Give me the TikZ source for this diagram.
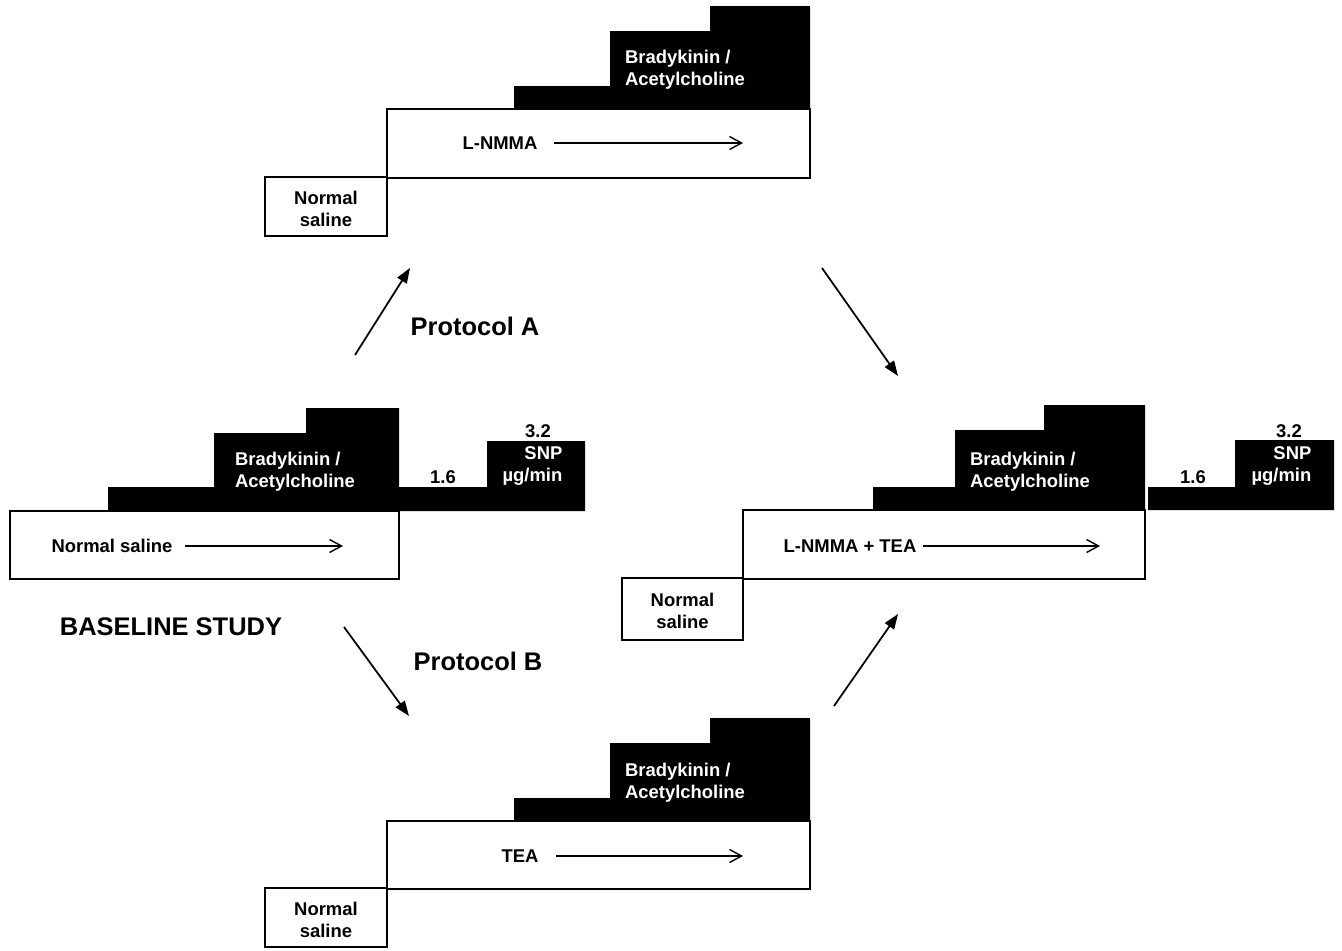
\documentclass[tikz,border=0pt]{standalone}
\usepackage{fontspec}
\setmainfont{Liberation Sans}
\usetikzlibrary{positioning,arrows.meta,fit}
\tikzset{
  lbl/.style={font=\fontsize{10.5}{12.5}\selectfont\bfseries, inner sep=3pt},
  whitelbl/.style={lbl, text=white},
  title/.style={font=\fontsize{14.5}{17}\selectfont\bfseries},
  infusion/.style={draw, fill=white, line width=1.1pt, inner sep=0pt},
  salinebox/.style={infusion},
  salinetext/.style={lbl, align=center, yshift=-1.3pt},
  dose/.style={fill=black},
  flow/.style={-{Straight Barb[length=2.4mm,width=2.6mm]}, line width=0.8pt, shorten <=5pt},
  route/.style={-{Triangle[length=3mm,width=2.2mm]}, line width=1pt},
}

\begin{document}
\begin{tikzpicture}[x=0.02cm, y=-0.02cm]
  \useasboundingbox (0,0) rectangle (1342,950);

  % baseline study
  \fill[dose] (108,511) -- (108,487) -- (214,487) -- (214,433) -- (306,433) -- (306,408) -- (399,408)
    -- (399,487) -- (487,487) -- (487,441) -- (585,441) -- (585,511) -- cycle;
  \node[infusion, fit={(10,511) (399,579)}] (baseBox) {};
  \node[lbl] (baseSal) at (112,546) {Normal saline};
  \coordinate (baseEnd) at (343,546);
  \draw[flow, shorten <=4pt] (baseSal.east) -- (baseEnd);
  \node[whitelbl, align=left] (baseBK) at (295,472) {Bradykinin /\\Acetylcholine};
  \node[lbl] (baseLow) at (443,477) {1.6};
  \node[lbl] (baseHigh) at (538,431) {3.2};
  \node[whitelbl, align=right, anchor=east] (baseSNP) at (568,466) {SNP\\µg/min};
  \node[title] (baseTitle) at (171,627) {BASELINE STUDY};

  % protocol A: L-NMMA
  \fill[dose] (514,109) -- (514,86) -- (610,86) -- (610,31) -- (710,31) -- (710,6) -- (810,6) -- (810,109) -- cycle;
  \node[infusion, fit={(387,109) (810,178)}] (boxA) {};
  \node[salinebox, fit={(265,177) (387,236)},
        label={[salinetext]center:{Normal\\saline}}] (salA) {};
  \node[whitelbl, align=left] (bkA) at (685,70) {Bradykinin /\\Acetylcholine};
  \node[lbl] (drugA) at (500,143) {L-NMMA};
  \coordinate (drugAEnd) at (743,143);
  \draw[flow, shorten <=6.5pt] (drugA.east) -- (drugAEnd);

  % protocol B: TEA
  \fill[dose] (514,821) -- (514,798) -- (610,798) -- (610,743) -- (710,743) -- (710,718) -- (810,718) -- (810,821) -- cycle;
  \node[infusion, fit={(387,821) (810,889)}] (boxB) {};
  \node[salinebox, fit={(265,888) (387,947)},
        label={[salinetext]center:{Normal\\saline}}] (salB) {};
  \node[whitelbl, align=left] (bkB) at (685,783) {Bradykinin /\\Acetylcholine};
  \node[lbl] (drugB) at (520,856) {TEA};
  \coordinate (drugBEnd) at (743,856);
  \draw[flow, shorten <=7pt] (drugB.east) -- (drugBEnd);

  % combined: L-NMMA + TEA
  \fill[dose] (873,510) -- (873,487) -- (955,487) -- (955,430) -- (1044,430) -- (1044,405) -- (1145,405) -- (1145,510) -- cycle;
  \fill[dose] (1148,510) -- (1148,487) -- (1235,487) -- (1235,440) -- (1334,440) -- (1334,510) -- cycle;
  \node[infusion, fit={(743,510) (1145,579)}] (boxAB) {};
  \node[salinebox, fit={(622,578) (743,640)},
        label={[salinetext]center:{Normal\\saline}}] (salAB) {};
  \node[whitelbl, align=left] (bkAB) at (1030,472) {Bradykinin /\\Acetylcholine};
  \node[lbl] (drugAB) at (850,546) {L-NMMA + TEA};
  \coordinate (drugABEnd) at (1100,546);
  \draw[flow, shorten <=0.5pt] (drugAB.east) -- (drugABEnd);
  \node[lbl] (abLow) at (1193,477) {1.6};
  \node[lbl] (abHigh) at (1289,431) {3.2};
  \node[whitelbl, align=right, anchor=east] (abSNP) at (1317,466) {SNP\\µg/min};

  % routes between studies
  \node[title] (protA) at (475,326) {Protocol A};
  \node[title] (protB) at (478,661) {Protocol B};
  \coordinate (aFrom) at (355,355);
  \coordinate (aTo) at (410,268);
  \coordinate (bFrom) at (344,627);
  \coordinate (bTo) at (409,716);
  \coordinate (cFrom) at (822,268);
  \coordinate (cTo) at (898,376);
  \coordinate (dFrom) at (834,706);
  \coordinate (dTo) at (898,614);
  \draw[route] (aFrom) -- (aTo);
  \draw[route] (bFrom) -- (bTo);
  \draw[route] (cFrom) -- (cTo);
  \draw[route] (dFrom) -- (dTo);
\end{tikzpicture}
\end{document}
